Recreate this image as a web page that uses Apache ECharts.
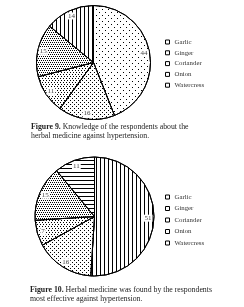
<!DOCTYPE html>
<html><head><meta charset="utf-8">
<script src="https://cdn.jsdelivr.net/npm/echarts@6/dist/echarts.min.js"></script>
<style>html,body{margin:0;padding:0;background:#fff}#c{width:244px;height:307px}</style>
</head><body><div id="c"></div>
<script>
const categories = ['Garlic', 'Ginger', 'Coriander', 'Onion', 'Watercress'];
const knowledgeValues = [44, 16, 11, 15, 14];
const effectiveValues = [51, 16, 7, 15, 11];
const caption9 = ['Figure 9.', ' Knowledge of the respondents about the', 'herbal medicine against hypertension.'];
const caption10 = ['Figure 10.', ' Herbal medicine was found by the respondents', 'most effective against hypertension.'];

const SERIF = '"Liberation Serif","DejaVu Serif",serif';
const K = '#000';
const decals = {
  sparseDots: {symbol:'rect', symbolSize:1, color:K, dashArrayX:[[1,5],[0,3,1,2]], dashArrayY:[1,2]},
  dots: {symbol:'rect', symbolSize:1, color:K, dashArrayX:[[1,3],[0,2,1,1]], dashArrayY:[1,1]},
  denseDots: {symbol:'rect', symbolSize:1, color:K, dashArrayX:[[1,2],[0,1,1,1]], dashArrayY:[1,1]},
  checker: {symbol:'rect', symbolSize:1, color:K, dashArrayX:[[1,1],[0,1,1,0]], dashArrayY:[1,0.6]},
  vLines: {symbol:'rect', symbolSize:1, color:K, dashArrayX:[1,2.5], dashArrayY:[4,0]},
  hLines: {symbol:'rect', symbolSize:1, color:K, dashArrayX:[4,0], dashArrayY:[1,2.5]}
};
const fig9Decals = [decals.sparseDots, decals.dots, decals.denseDots, decals.checker, decals.vLines];
const fig10Decals = [decals.vLines, decals.dots, decals.denseDots, decals.checker, decals.hLines];

function pieData(vals, decs) {
  return categories.map((n, i) => ({name: n, value: vals[i], itemStyle: {color:'#fff', borderColor:'#000', borderWidth:1, decal: decs[i]}}));
}
function labelData(vals) {
  return categories.map((n, i) => ({name: n, value: vals[i]}));
}
function pieSeries(center, r, vals, decs) {
  return [{
    type:'pie', center: center, radius: r, startAngle: 90, clockwise: true, silent: true, z: 1,
    label:{show:false}, labelLine:{show:false}, emphasis:{disabled:true}, animation:false,
    data: pieData(vals, decs)
  }, {
    type:'pie', center: center, radius: [r*0.7, r], startAngle: 90, clockwise: true, silent: true, z: 5,
    itemStyle:{color:'rgba(0,0,0,0)', borderWidth:0}, emphasis:{disabled:true}, animation:false,
    avoidLabelOverlap:false,
    label:{show:true, position:'inside', formatter:'{c}', fontFamily: SERIF, fontSize:7, color:'#444',
      backgroundColor:'#fff', padding:[0,1]},
    labelLine:{show:false}, data: labelData(vals)
  }];
}
function legend(left, top, gap) {
  return {orient:'vertical', left:left, top:top, padding:0, itemWidth:4, itemHeight:4, itemGap:gap, itemTextGap:2, icon:'rect',
    data: categories, selectedMode:false,
    itemStyle:{color:'#fff', borderColor:'#000', borderWidth:1, decal:'none'},
    textStyle:{fontFamily: SERIF, fontSize:6.8, color:'#333', lineHeight:8}};
}
function caption(x, y, parts) {
  return {type:'text', left:x, top:y, silent:true, style:{
    text: '{b|' + parts[0] + '}{n|' + parts[1] + '}\n{n|' + parts[2] + '}',
    rich: {b:{fontFamily:SERIF, fontSize:7.8, fontWeight:'bold', fill:'#222', lineHeight:8.5},
           n:{fontFamily:SERIF, fontSize:7.8, fill:'#222', lineHeight:8.5}}
  }};
}
const chart = echarts.init(document.getElementById('c'), null, {renderer:'canvas'});
chart.setOption({
  backgroundColor:'#fff', animation:false,
  legend: [legend(165, 38, 2.8), legend(165, 193, 3.5)],
  series: [].concat(pieSeries([93.5, 62.5], 57, knowledgeValues, fig9Decals),
                    pieSeries([94.5, 216.5], 59.5, effectiveValues, fig10Decals)),
  graphic: [caption(31, 123, caption9), caption(30, 286, caption10)]
});
</script></body></html>
